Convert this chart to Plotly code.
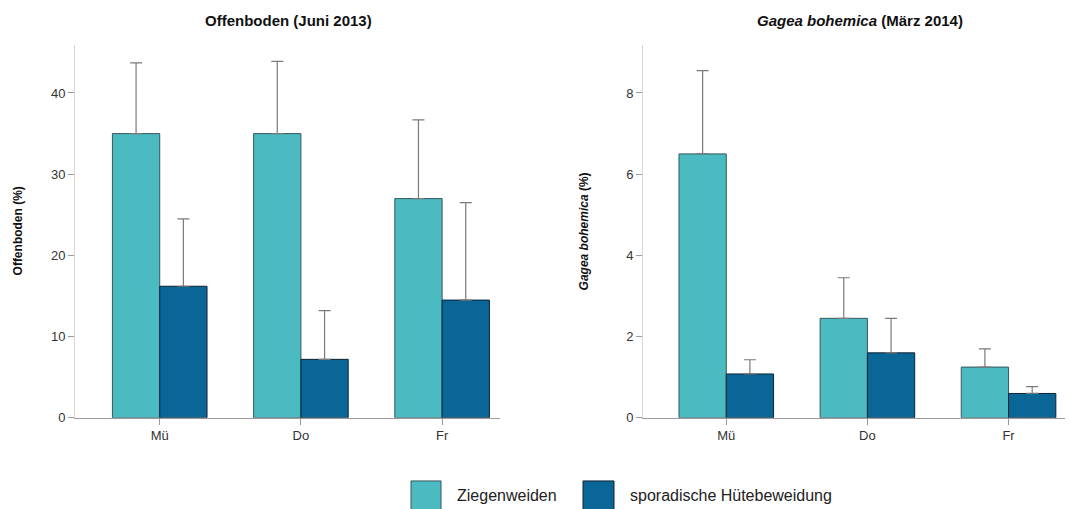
import plotly.graph_objects as go

W, H = 1071, 509

# Categories and measured means with upper standard errors
sites = ["Mü", "Do", "Fr"]
series_names = ["Ziegenweiden", "sporadische Hütebeweidung"]

offen_ziege = [35.0, 35.0, 27.0]
offen_ziege_err = [8.7, 8.9, 9.7]
offen_huete = [16.2, 7.2, 14.5]
offen_huete_err = [8.3, 6.0, 12.0]

gagea_ziege = [6.5, 2.45, 1.25]
gagea_ziege_err = [2.05, 1.0, 0.45]
gagea_huete = [1.08, 1.6, 0.6]
gagea_huete_err = [0.35, 0.85, 0.17]

offen_ticks = [0, 10, 20, 30, 40]
gagea_ticks = [0, 2, 4, 6, 8]

TEAL = "#4bbbc1"
BLUE = "#0b6698"
FONT = "Liberation Sans, Arial, sans-serif"


def px_x(p):
    return p / W


def px_y(p):
    return 1 - p / H


fig = go.Figure()


def add_bars(xa, ya, vals_a, err_a, vals_b, err_b):
    for vals, errs, col, edge, name in [
        (vals_a, err_a, TEAL, "#35585e", series_names[0]),
        (vals_b, err_b, BLUE, "#0e2233", series_names[1]),
    ]:
        fig.add_trace(go.Bar(
            x=sites, y=vals, name=name, xaxis=xa, yaxis=ya,
            marker=dict(color=col, line=dict(color=edge, width=1)),
            error_y=dict(type="data", array=errs, arrayminus=[0] * len(errs),
                         symmetric=False, color="#7a7a7a", thickness=1.2, width=6),
            showlegend=False,
        ))


add_bars("x", "y", offen_ziege, offen_ziege_err, offen_huete, offen_huete_err)
add_bars("x2", "y2", gagea_ziege, gagea_ziege_err, gagea_huete, gagea_huete_err)

ydom = [px_y(417), px_y(45)]

xaxis_common = dict(
    type="category", showgrid=False, zeroline=False,
    showline=True, linecolor="#9a9a9a", linewidth=1,
    ticks="outside", ticklen=6, tickcolor="#9a9a9a",
    tickfont=dict(family=FONT, size=13, color="#333"),
    fixedrange=True,
)
yaxis_common = dict(
    showgrid=False, zeroline=False,
    showline=True, linecolor="#d6d6d6", linewidth=1,
    ticks="outside", ticklen=6, tickcolor="#9a9a9a",
    tickfont=dict(family=FONT, size=13, color="#333"),
    domain=ydom,
)

fig.update_layout(
    width=W, height=518, autosize=False,
    margin=dict(l=0, r=0, t=0, b=0, pad=0),
    paper_bgcolor="white", plot_bgcolor="white",
    barmode="group", bargap=0.33, bargroupgap=0,
    font=dict(family=FONT, color="#222"),
    xaxis=dict(xaxis_common, domain=[px_x(75), px_x(500)], range=[-0.6, 2.41]),
    yaxis=dict(yaxis_common, anchor="x", range=[0, 45.9], tickvals=offen_ticks),
    xaxis2=dict(xaxis_common, domain=[px_x(643), px_x(1065)], range=[-0.59, 2.4], anchor="y2"),
    yaxis2=dict(yaxis_common, anchor="x2", range=[0, 9.18], tickvals=gagea_ticks),
)

annotations = [
    dict(text="<b>Offenboden (Juni 2013)</b>", x=px_x(288), y=px_y(20),
         font=dict(size=15, color="#111")),
    dict(text="<b><i>Gagea bohemica</i> (März 2014)</b>", x=px_x(860), y=px_y(20),
         font=dict(size=15, color="#111")),
    dict(text="<b>Offenboden (%)</b>", x=px_x(18), y=px_y(231), textangle=-90,
         font=dict(size=12, color="#111")),
    dict(text="<b><i>Gagea bohemica</i> (%)</b>", x=px_x(584), y=px_y(231), textangle=-90,
         font=dict(size=12, color="#111")),
    dict(text=series_names[0], x=px_x(455), y=px_y(495), xanchor="left",
         font=dict(size=16, color="#222")),
    dict(text=series_names[1], x=px_x(628), y=px_y(495), xanchor="left",
         font=dict(size=16, color="#222")),
]
for a in annotations:
    a.setdefault("xanchor", "center")
    a.update(xref="paper", yref="paper", yanchor="middle", showarrow=False)
fig.update_layout(annotations=annotations)

# legend swatches
for x0, x1, col, edge in [(411, 441, TEAL, "#35585e"), (583, 614, BLUE, "#0e2233")]:
    fig.add_shape(type="rect", xref="paper", yref="paper",
                  x0=px_x(x0), x1=px_x(x1), y0=px_y(511), y1=px_y(480),
                  fillcolor=col, line=dict(color=edge, width=1))

fig.write_html("out.html")
